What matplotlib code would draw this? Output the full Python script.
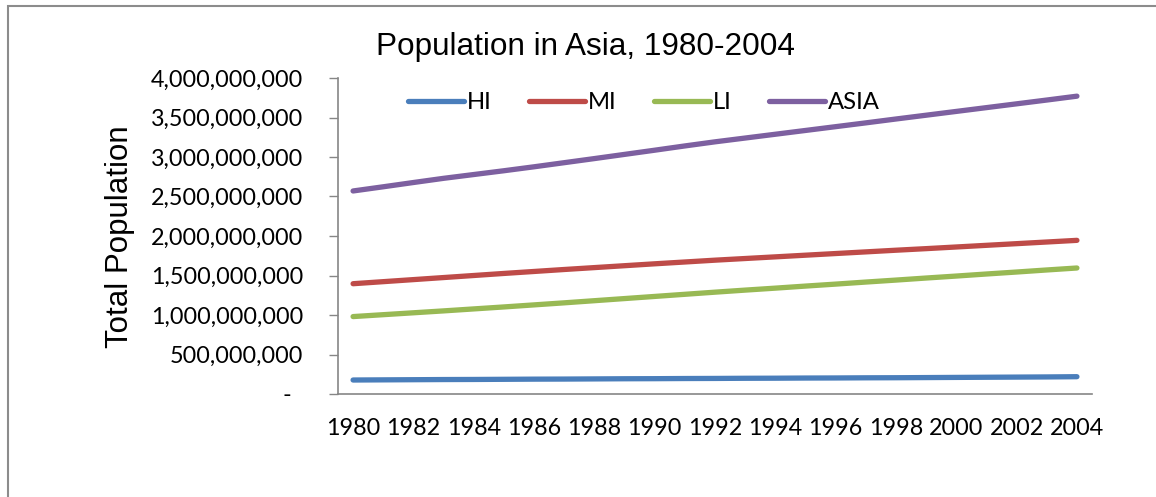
"""
plot.py
Line chart of total population in Asia by income group, 1980-2004.
Writes out.png (1156x497).
"""

import matplotlib
matplotlib.use("Agg")
import matplotlib.pyplot as plt
from matplotlib.patches import Rectangle
from matplotlib.ticker import FixedLocator, FuncFormatter

# --- data (millions of people) ---
years = list(range(1980, 2005))
hi = [177, 179, 181, 183, 184, 186, 188, 189, 191, 193, 194, 196, 197,
      199, 200, 202, 203, 205, 206, 208, 210, 212, 214, 216, 219]
mi = [1396, 1422, 1448, 1474, 1500, 1526, 1551, 1576, 1600, 1624, 1648, 1671,
      1694, 1715, 1736, 1757, 1778, 1799, 1820, 1840, 1861, 1882, 1903, 1924,
      1945]
li = [980, 1004, 1028, 1052, 1077, 1102, 1128, 1154, 1181, 1208, 1235, 1262,
      1289, 1315, 1340, 1366, 1391, 1417, 1442, 1468, 1493, 1519, 1544, 1570,
      1595]
asia = [2570, 2623, 2677, 2730, 2778, 2826, 2876, 2928, 2980, 3033, 3086, 3140,
        3192, 3240, 3288, 3336, 3384, 3432, 3481, 3529, 3577, 3625, 3673, 3721,
        3770]

series_names = ["HI", "MI", "LI", "ASIA"]
y_ticks = [0, 500_000_000, 1_000_000_000, 1_500_000_000, 2_000_000_000,
           2_500_000_000, 3_000_000_000, 3_500_000_000, 4_000_000_000]
x_tick_years = list(range(1980, 2005, 2))

title = "Population in Asia, 1980-2004"
y_label = "Total Population"

# --- palette ---
COLORS = ["#4A7EBB", "#BE4B48", "#98B954", "#7D60A0"]
AXIS_COLOR = "#868686"
FRAME_COLOR = "#8C8C8C"

W, H, DPI = 1156, 497, 100
TICK_FONT = "Lato"
TEXT_FONT = "Liberation Sans"


def _fmt_y(v, _pos):
    """Excel accounting style: zero shows as a dash."""
    if v == 0:
        return "-  "
    return f"{v:,.0f}"


fig = plt.figure(figsize=(W / DPI, H / DPI), dpi=DPI)
ax = fig.add_axes([338 / W, (H - 394) / H, 754 / W, 316 / H])

for name, vals, color in zip(series_names, [hi, mi, li, asia], COLORS):
    ax.plot(years, [v * 1_000_000 for v in vals], color=color, lw=3.8,
            solid_capstyle="round", label=name)

ax.set_xlim(1979.5, 2004.5)
ax.set_ylim(0, 4_000_000_000)
ax.yaxis.set_major_locator(FixedLocator(y_ticks))
ax.yaxis.set_major_formatter(FuncFormatter(_fmt_y))
ax.xaxis.set_major_locator(FixedLocator(x_tick_years))

for side in ("top", "right"):
    ax.spines[side].set_visible(False)
for side in ("left", "bottom"):
    ax.spines[side].set_color(AXIS_COLOR)
    ax.spines[side].set_linewidth(1.2)

ax.tick_params(axis="y", length=6.5, width=1.0, color=AXIS_COLOR, pad=18.5,
               labelsize=16.8)
ax.tick_params(axis="x", length=0, pad=17, labelsize=16.8)
for lab in ax.get_xticklabels() + ax.get_yticklabels():
    lab.set_fontfamily(TICK_FONT)

leg = ax.legend(loc="center left", bbox_to_anchor=(58 / 754, 0.921), ncol=4,
                frameon=False, borderpad=0, handlelength=2.35,
                handletextpad=0.12, columnspacing=1.56,
                prop={"family": TICK_FONT, "size": 17.2})
for line in leg.get_lines():
    line.set_linewidth(3.8)
    line.set_solid_capstyle("round")

fig.text(585 / W, (H - 47) / H, title, ha="center", va="center",
         fontsize=22.7, family=TEXT_FONT)
fig.text(120 / W, (H - 237) / H, y_label, ha="center", va="center",
         rotation=90, fontsize=22.5, family=TEXT_FONT)

# outer chart border (runs off the right and bottom edges)
fig.patches.append(Rectangle((8 / W, -0.1), 1.2, (H - 6) / H + 0.1,
                             transform=fig.transFigure, fill=False,
                             edgecolor=FRAME_COLOR, lw=1.5))

fig.savefig("out.png", dpi=DPI, facecolor="white")
